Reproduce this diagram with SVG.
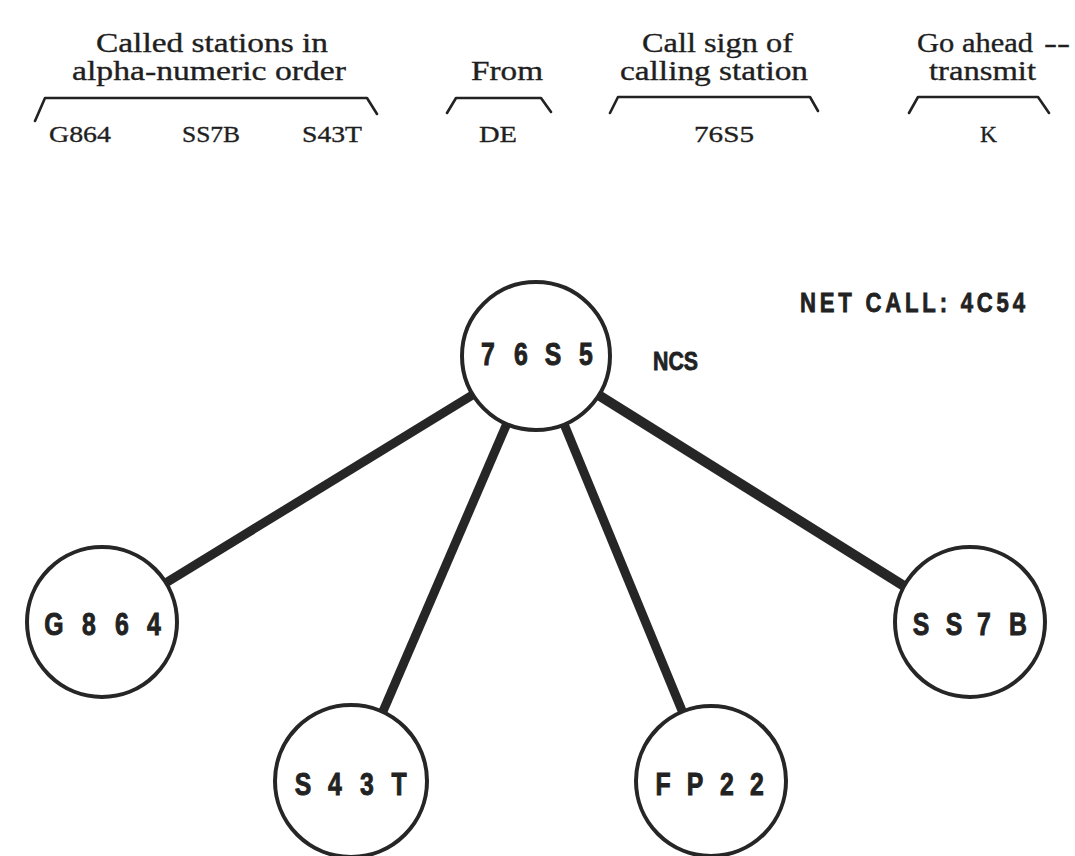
<svg xmlns="http://www.w3.org/2000/svg" width="1075" height="856" viewBox="0 0 1075 856">
<style>
.serif{font-family:"Liberation Serif","Times New Roman",serif;fill:#1f1f1f;stroke:#1f1f1f;stroke-width:0.35;}
.h{font-size:26.5px;}
.v{font-size:24px;}
.brk{fill:none;stroke:#222;stroke-width:2.6;stroke-linejoin:round;stroke-linecap:round;}
.node{fill:#fff;stroke:#262626;stroke-width:4;}
.lab{font-family:"Liberation Sans",Arial,sans-serif;font-weight:bold;font-size:31px;fill:#222;stroke:#222;stroke-width:0.9;text-anchor:middle;}
.bold{font-family:"Liberation Sans",Arial,sans-serif;font-weight:bold;fill:#222;stroke:#222;stroke-width:0.8;}
.edge{stroke:#262626;stroke-width:9;stroke-linecap:butt;}
</style>
<rect width="1075" height="856" fill="#ffffff"/>

<g id="header">
  <g id="called">
    <text class="serif h" x="96" y="52" textLength="232" lengthAdjust="spacingAndGlyphs">Called stations in</text>
    <text class="serif h" x="72" y="80" textLength="274" lengthAdjust="spacingAndGlyphs">alpha-numeric order</text>
    <polyline class="brk" points="35,121 45,98 367,98 377,114"/>
    <text class="serif v" x="49" y="142" textLength="62" lengthAdjust="spacingAndGlyphs">G864</text>
    <text class="serif v" x="182" y="142" textLength="58" lengthAdjust="spacingAndGlyphs">SS7B</text>
    <text class="serif v" x="302" y="142" textLength="60" lengthAdjust="spacingAndGlyphs">S43T</text>
  </g>
  <g id="from">
    <text class="serif h" x="471" y="80" textLength="72" lengthAdjust="spacingAndGlyphs">From</text>
    <polyline class="brk" points="447,113 456,98 541,98 551,112"/>
    <text class="serif v" x="479" y="142" textLength="38" lengthAdjust="spacingAndGlyphs">DE</text>
  </g>
  <g id="callsign">
    <text class="serif h" x="642" y="52" textLength="151" lengthAdjust="spacingAndGlyphs">Call sign of</text>
    <text class="serif h" x="620" y="80" textLength="188" lengthAdjust="spacingAndGlyphs">calling station</text>
    <polyline class="brk" points="610,113 618,97 810,97 818,111"/>
    <text class="serif v" x="694" y="142" textLength="60" lengthAdjust="spacingAndGlyphs">76S5</text>
  </g>
  <g id="goahead">
    <text class="serif h" x="917" y="52" textLength="116" lengthAdjust="spacingAndGlyphs">Go ahead</text>
    <text class="serif h" x="1044" y="52" textLength="26" lengthAdjust="spacingAndGlyphs">--</text>
    <text class="serif h" x="929" y="80" textLength="107" lengthAdjust="spacingAndGlyphs">transmit</text>
    <polyline class="brk" points="909,113 918,97 1038,97 1049,113"/>
    <text class="serif v" x="980" y="142" textLength="17" lengthAdjust="spacingAndGlyphs">K</text>
  </g>
</g>

<g id="connectors">
  <line class="edge" x1="536" y1="356" x2="102" y2="622"/>
  <line class="edge" x1="536" y1="356" x2="353" y2="781"/>
  <line class="edge" x1="536" y1="356" x2="711" y2="781"/>
  <line class="edge" x1="536" y1="356" x2="968" y2="626" style="stroke-width:10"/>
</g>

<g id="node-7655">
  <circle class="node" cx="536" cy="356" r="74"/>
  <text class="lab" transform="scale(0.8,1)" x="610 630.6 651.25 671.25 691.25 711.9 732.5" y="365">7 6 S 5</text>
</g>
<g id="ncs-label">
  <text class="bold" x="653" y="370" font-size="25" textLength="45" lengthAdjust="spacingAndGlyphs">NCS</text>
</g>
<g id="net-call">
  <text class="bold" transform="scale(0.82,1)" x="975.6" y="312" font-size="27" textLength="274.4" lengthAdjust="spacing">NET CALL: 4C54</text>
</g>
<g id="node-G864">
  <circle class="node" cx="102" cy="622" r="75"/>
  <text class="lab" transform="scale(0.8,1)" x="67.5 89.4 111.25 131.9 152.5 172.5 192.5" y="635">G 8 6 4</text>
</g>
<g id="node-SS7B">
  <circle class="node" cx="970" cy="622" r="75"/>
  <text class="lab" transform="scale(0.8,1)" x="1151.25 1171.9 1192.5 1211.25 1230 1251.25 1272.5" y="635">S S 7 B</text>
</g>
<g id="node-S43T">
  <circle class="node" cx="351" cy="781" r="76"/>
  <text class="lab" transform="scale(0.8,1)" x="378.75 398.75 418.75 438.75 458.75 478.75 498.75" y="795">S 4 3 T</text>
</g>
<g id="node-FP22">
  <circle class="node" cx="711" cy="781" r="75"/>
  <text class="lab" transform="scale(0.8,1)" x="828.75 848.75 868.75 888.75 908.75 927.5 946.25" y="795">F P 2 2</text>
</g>
</svg>
